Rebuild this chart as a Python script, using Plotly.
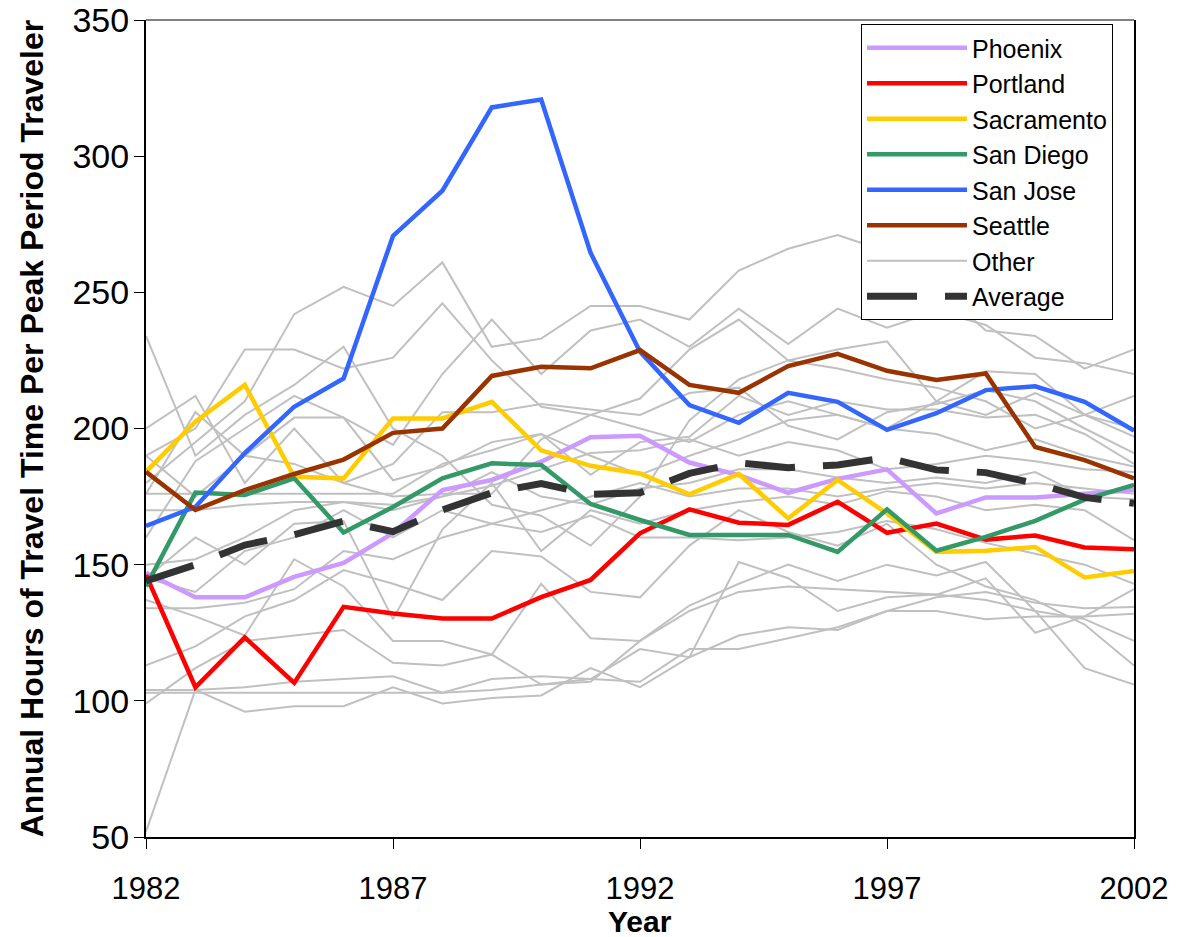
import plotly.graph_objects as go

years = list(range(1982, 2003))

phoenix    = [147, 138, 138, 145.5, 150.6, 161.6, 177.4, 181.1, 187.8, 196.8, 197.3, 187.5, 182.9, 176.4, 181.5, 185.0, 168.8, 174.7, 174.7, 176.1, 177.4]
portland   = [146.2, 105.0, 123.3, 106.6, 134.5, 132.1, 130.2, 130.2, 138.1, 144.4, 161.5, 170.3, 165.4, 164.6, 173.1, 161.7, 165.1, 159.2, 160.7, 156.3, 155.7]
sacramento = [184.1, 202.5, 216.0, 182.3, 181.7, 203.7, 203.7, 209.8, 192.0, 186.3, 183.5, 175.8, 183.3, 167.0, 181.1, 168.8, 154.7, 155.1, 156.5, 145.3, 147.7]
san_diego  = [142.0, 176.5, 175.6, 181.7, 161.8, 171.2, 181.7, 187.2, 186.6, 172.3, 166.4, 160.9, 160.9, 160.9, 154.7, 170.3, 155.1, 160.2, 166.1, 173.9, 179.3]
san_jose   = [164.2, 171.2, 191.0, 208.0, 218.4, 270.7, 287.3, 317.9, 320.8, 264.5, 228.2, 208.6, 202.1, 213.1, 209.8, 199.5, 205.6, 214.1, 215.5, 209.8, 199.2]
seattle    = [184.1, 170.1, 177.4, 183.3, 188.6, 198.4, 200.0, 219.3, 222.7, 222.1, 228.8, 216.0, 213.1, 222.9, 227.4, 221.2, 217.8, 220.2, 193.2, 188.4, 181.7]
average    = [144.0, 150.0, 157.2, 161.0, 166.0, 162.1, 170.1, 176.4, 179.8, 175.8, 176.4, 183.5, 187.4, 185.6, 186.6, 189.3, 184.8, 183.8, 179.8, 174.7, 172.5]

other = [
    [52, 104, 96, 98, 98, 105, 99, 101, 102, 112, 105, 116, 124, 127, 126, 133, 133, 130, 131, 131, 132],
    [104, 104, 105, 107, 108, 109, 103, 108, 109, 108, 107, 119, 119, 123, 127, 133, 138, 140, 136, 134, 134.5],
    [103, 103, 103, 103, 103, 103, 103, 104, 106, 108, 119, 116, 151, 145, 133, 138, 139, 137, 133, 112, 106],
    [99, 112, 122, 124, 126, 114, 113, 117, 143, 123, 122, 135, 143, 150, 144, 150, 146, 151, 133, 130, 122],
    [113, 120, 131, 137, 148, 143, 137, 155, 153, 140, 138, 157, 170, 162, 157, 165, 150, 142, 137, 128, 113],
    [137, 131, 124, 152, 142, 122, 122, 117, 106, 107, 122, 133, 140, 142, 141, 140, 139, 145, 125, 131, 141],
    [134, 134, 136, 141, 155, 152, 160, 165, 162, 168, 160, 160, 159, 160, 162, 166, 163, 158, 154, 150, 143],
    [145, 160, 150, 165, 166, 130, 163, 180, 155, 170, 165, 170, 173, 175, 172, 177, 175, 170, 172, 170, 159],
    [150, 152, 160, 170, 173, 170, 175, 184, 175, 172, 178, 180, 185, 185, 182, 180, 182, 180, 184, 175, 174],
    [170, 170, 172, 173, 173, 172, 175, 179, 185, 191, 192, 196, 190, 195, 192, 185, 187, 190, 188, 185, 184],
    [176, 176, 176, 176, 176, 176, 187, 192, 198, 190, 183, 190, 196, 203, 205, 200, 198, 192, 196, 190, 186],
    [190, 175, 190, 204, 204, 181, 186, 195, 198, 183, 195, 197, 212, 205, 210, 207, 207, 204, 205, 198, 187],
    [200, 212, 180, 200, 180, 187, 206, 206, 209, 207, 205, 213, 215, 201, 196, 206, 209, 214, 210, 200, 191],
    [234, 190, 205, 216, 230, 200, 190, 172, 168, 157, 175, 203, 218, 225, 222, 218, 215, 210, 200, 205, 197],
    [190, 200, 229, 229, 222, 226, 246, 225, 208, 205, 211, 229, 240, 225, 229, 232, 210, 221, 220, 205, 212],
    [180, 195, 210, 242, 252, 245, 261, 230, 233, 245, 245, 240, 258, 266, 271, 265, 252, 236, 234, 222, 229],
    [160, 188, 200, 212, 204, 194, 220, 240, 220, 236, 240, 230, 244, 231, 244, 237, 243, 238, 226, 224, 220],
    [145, 140, 155, 160, 170, 160, 170, 165, 170, 175, 180, 175, 178, 178, 175, 178, 180, 178, 180, 178, 176],
    [176, 206, 190, 187, 180, 175, 176, 176, 196, 205, 200, 195, 205, 210, 205, 200, 210, 205, 213, 205, 200],
]

x_ticks = [1982, 1987, 1992, 1997, 2002]
y_ticks = [50, 100, 150, 200, 250, 300, 350]

FONT = "Liberation Sans, Arial, sans-serif"

fig = go.Figure()

for i, vals in enumerate(other):
    fig.add_trace(go.Scatter(
        x=years, y=vals, mode="lines", name="Other",
        line=dict(color="#C0C0C0", width=2),
        legendgroup="other", showlegend=(i == 0), legendrank=7,
        hoverinfo="skip",
    ))

cities = [
    ("Phoenix", phoenix, "#CC99FF"),
    ("Portland", portland, "#FF0000"),
    ("Sacramento", sacramento, "#FFCC00"),
    ("San Diego", san_diego, "#339966"),
    ("San Jose", san_jose, "#3366FF"),
    ("Seattle", seattle, "#993300"),
]
for rank, (name, vals, col) in enumerate(cities, start=1):
    fig.add_trace(go.Scatter(
        x=years, y=vals, mode="lines", name=name,
        line=dict(color=col, width=4.5),
        legendgroup=name, legendrank=rank,
    ))

fig.add_trace(go.Scatter(
    x=years, y=average, mode="lines", name="Average",
    line=dict(color="#333333", width=7, dash="50px,28px"),
    legendgroup="avg", legendrank=8,
))

# body margin is removed below, so the plot area spans page x 146..1134, y 20..837
fig.update_layout(
    width=1190, height=937,
    margin=dict(l=146, r=56, t=20, b=100),
    paper_bgcolor="white", plot_bgcolor="white",
    font=dict(family=FONT, color="black"),
    legend=dict(
        x=0.7237, y=0.995, xanchor="left", yanchor="top",
        bgcolor="white", bordercolor="black", borderwidth=1,
        font=dict(size=25, family=FONT),
        traceorder="grouped", tracegroupgap=0, itemwidth=100,
    ),
    shapes=[dict(type="line", xref="paper", yref="paper", x0=0, x1=1, y0=1, y1=1,
                 line=dict(color="#808080", width=2))],
    annotations=[dict(text="<b>Year</b>", xref="paper", yref="paper", x=0.5, y=-84 / 817,
                      xanchor="center", yanchor="middle", showarrow=False,
                      font=dict(size=30, family=FONT, color="black"))],
)

fig.update_xaxes(
    range=[1982, 2002], tickvals=x_ticks, ticktext=[str(v) for v in x_ticks],
    showline=True, linecolor="black", linewidth=2, ticks="outside", ticklen=10,
    tickcolor="black", tickwidth=1, showgrid=False, zeroline=False, automargin=False,
    tickfont=dict(size=31, family=FONT), ticklabelstandoff=13, ticklabeloverflow="allow",
)
fig.update_yaxes(
    range=[50, 350], tickvals=y_ticks,
    showline=True, linecolor="black", linewidth=2, mirror=True, ticks="outside", ticklen=10,
    tickcolor="black", tickwidth=1, showgrid=False, zeroline=False, automargin=False,
    tickfont=dict(size=34, family=FONT), ticklabelstandoff=-2, ticklabeloverflow="allow",
    title=dict(text="<b>Annual Hours of Travel Time Per Peak Period Traveler</b>",
               font=dict(size=32, family=FONT), standoff=19),
)

fig.write_html(
    "out.html",
    config={"displayModeBar": False},
    post_script="document.body.style.margin='0px';document.body.style.overflow='hidden';",
)
